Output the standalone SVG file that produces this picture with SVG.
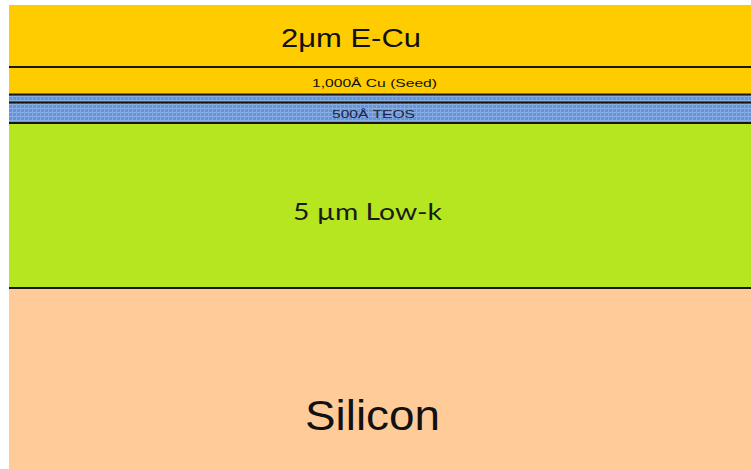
<svg xmlns="http://www.w3.org/2000/svg" width="751" height="469" viewBox="0 0 751 469">
<defs>
<pattern id="teos" width="4" height="4" patternUnits="userSpaceOnUse">
<rect width="4" height="4" fill="#6a93d3"/>
<rect x="0" y="0" width="4" height="1" fill="#8ab0e8"/>
<rect x="0" y="0" width="1" height="4" fill="#82a9e2"/>
</pattern>
<style>
.sep{stroke:#1a1608;stroke-width:2;fill:none}
.arial{font-family:"Liberation Sans",Arial,sans-serif;fill:#111}
.lato{font-family:Lato,"Open Sans",sans-serif;fill:#1a1a1a}
</style>
</defs>
<rect width="751" height="469" fill="#ffffff"/>
<g id="ecu">
<rect x="9" y="5" width="742" height="62" fill="#ffcc00"/>
<text class="arial" x="281" y="47" font-size="26" textLength="140" lengthAdjust="spacingAndGlyphs">2μm E-Cu</text>
</g>
<g id="seed">
<rect x="9" y="67" width="742" height="28" fill="#ffcc00"/>
<text class="arial" x="312" y="87" font-size="11.5" textLength="125" lengthAdjust="spacingAndGlyphs">1,000Å Cu (Seed)</text>
</g>
<g id="teos-layer">
<rect x="9" y="95" width="742" height="28" fill="url(#teos)"/>
<text x="332" y="118" font-size="11.5" font-family="'Liberation Sans',Arial,sans-serif" fill="#1c2540" textLength="83" lengthAdjust="spacingAndGlyphs">500Å TEOS</text>
</g>
<g id="lowk">
<rect x="9" y="123" width="742" height="165" fill="#b5e61f"/>
<text class="lato" x="293" y="220" font-size="23" textLength="149" lengthAdjust="spacingAndGlyphs">5 µm Low-k</text>
</g>
<g id="silicon">
<rect x="9" y="288" width="742" height="181" fill="#ffcc99"/>
<text class="arial" x="305" y="430" font-size="42" textLength="135" lengthAdjust="spacingAndGlyphs">Silicon</text>
</g>
<g id="boundaries">
<line class="sep" x1="9" y1="67" x2="751" y2="67" stroke-width="1.5"/>
<line class="sep" x1="9" y1="94.5" x2="751" y2="94.5"/>
<line class="sep" x1="9" y1="102.5" x2="751" y2="102.5" stroke-width="1"/>
<line class="sep" x1="9" y1="123" x2="751" y2="123"/>
<line class="sep" x1="9" y1="288" x2="751" y2="288" stroke-width="2.5"/>
</g>
</svg>
